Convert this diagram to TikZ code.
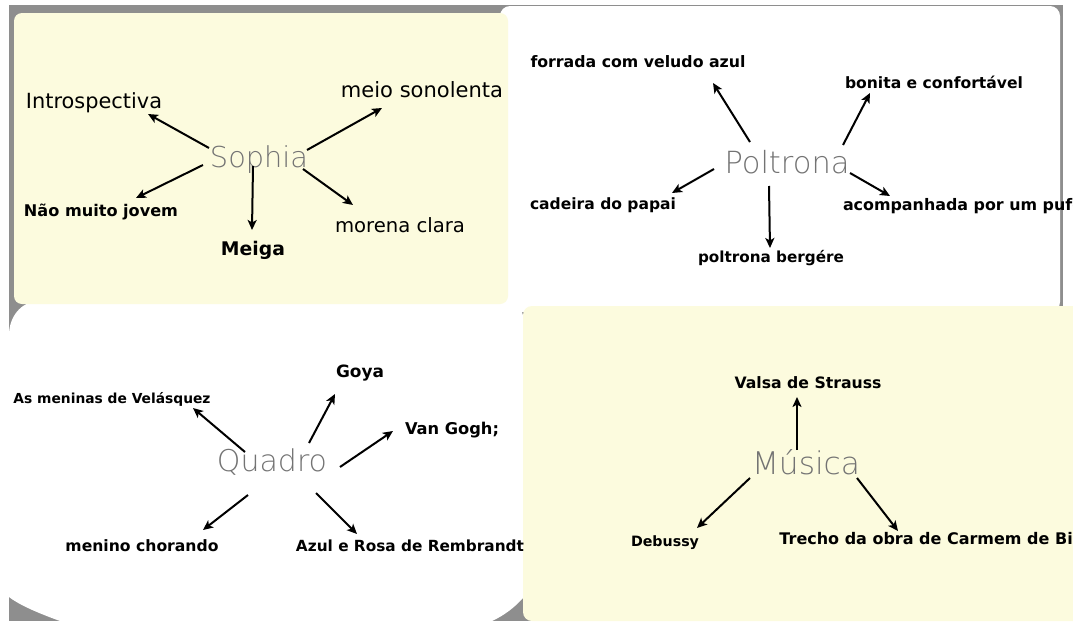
\documentclass[tikz,border=0pt]{standalone}
\usepackage{fontspec}
\setmainfont{DejaVu Sans}
\newfontfamily\handfont{DejaVu Sans ExtraLight}
\usetikzlibrary{arrows.meta}
\definecolor{cream}{RGB}{252,251,222}
\definecolor{backgray}{RGB}{142,142,142}
\definecolor{handgray}{RGB}{115,115,115}
\newcommand{\lw}[2]{\resizebox{#1pt}{!}{#2}}
\begin{document}
\begin{tikzpicture}[x=1pt,y=-1pt,
  lbl/.style={inner sep=0pt,font=\bfseries},
  lblr/.style={inner sep=0pt},
  hub/.style={inner sep=0pt,text=handgray,font=\handfont},
  arr/.style={-{Stealth[length=10pt,width=9pt,inset=2.5pt]},line width=2pt,black}]
\useasboundingbox (0,0) rectangle (1073,621);
\clip (0,0) rectangle (1073,621);
\fill[white] (0,0) rectangle (1073,621);
% backdrop
\fill[backgray] (9,5) rectangle (1063,621);
% panels
\fill[white] (9,335) .. controls (9,318) and (20,301) .. (40,301) -- (505,301)
  .. controls (518,301) and (524,310) .. (524,325) -- (524,597)
  .. controls (515,607) and (505,615) .. (492,621) -- (60,621)
  .. controls (35,612) and (18,604) .. (9,597) -- cycle;
\fill[white,rounded corners=10pt] (500,6) rectangle (1060,312);
\fill[cream,rounded corners=8pt] (14,13) rectangle (508,304);
\fill[cream,rounded corners=9pt] (523,306) rectangle (1085,621);

% ---- Sophia
\node[hub] (sophia) at (259,160) {\lw{98}{Sophia}};
\node[lblr] (intro) at (94,103) {\lw{136}{Introspectiva}};
\node[lblr] (meio) at (422,90) {\lw{162}{meio sonolenta}};
\node[lbl] (nao) at (101,212) {\lw{154}{Não muito jovem}};
\node[lbl] (meiga) at (253,250) {\lw{64}{Meiga}};
\node[lblr] (morena) at (400,225) {\lw{130}{morena clara}};
\draw[arr] ([shift={(-50,-12)}]sophia.center) -- ([shift={(54,11)}]intro.center);
\draw[arr] ([shift={(48,-10)}]sophia.center) -- ([shift={(-40,18)}]meio.center);
\draw[arr] ([shift={(-56,5)}]sophia.center) -- ([shift={(35,-14)}]nao.center);
\draw[arr] ([shift={(-6,6)}]sophia.center) -- ([shift={(-1,-20)}]meiga.center);
\draw[arr] ([shift={(44,9)}]sophia.center) -- ([shift={(-47,-20)}]morena.center);

% ---- Poltrona
\node[hub] (poltrona) at (787,162) {\lw{125}{Poltrona}};
\node[lbl] (forrada) at (638,62) {\lw{215}{forrada com veludo azul}};
\node[lbl] (bonita) at (934,82) {\lw{178}{bonita e confortável}};
\node[lbl] (cadeira) at (603,205) {\lw{146}{cadeira do papai}};
\node[lbl] (bergere) at (771,258) {\lw{146}{poltrona bergére}};
\node[lbl] (acomp) at (963,206) {\lw{240}{acompanhada por um pufe}};
\draw[arr] ([shift={(-37,-20)}]poltrona.center) -- ([shift={(75,21)}]forrada.center);
\draw[arr] ([shift={(56,-17)}]poltrona.center) -- ([shift={(-64,11)}]bonita.center);
\draw[arr] ([shift={(-73,7)}]poltrona.center) -- ([shift={(69,-12)}]cadeira.center);
\draw[arr] ([shift={(-18,24)}]poltrona.center) -- ([shift={(-1,-10)}]bergere.center);
\draw[arr] ([shift={(63,11)}]poltrona.center) -- ([shift={(-73,-10)}]acomp.center);

% ---- Quadro
\node[hub] (quadro) at (272,462) {\lw{110}{Quadro}};
\node[lbl] (goya) at (360,373) {\lw{48}{Goya}};
\node[lbl] (meninas) at (112,399) {\lw{197}{As meninas de Velásquez}};
\node[lbl] (vangogh) at (452,430) {\lw{94}{Van Gogh;}};
\node[lbl] (menino) at (142,546) {\lw{153}{menino chorando}};
\node[lbl] (azul) at (410,546) {\lw{228}{Azul e Rosa de Rembrandt}};
\draw[arr] ([shift={(37,-19)}]quadro.center) -- ([shift={(-25,21)}]goya.center);
\draw[arr] ([shift={(-27,-10)}]quadro.center) -- ([shift={(81,9)}]meninas.center);
\draw[arr] ([shift={(68,5)}]quadro.center) -- ([shift={(-59,1)}]vangogh.center);
\draw[arr] ([shift={(-24,33)}]quadro.center) -- ([shift={(61,-16)}]menino.center);
\draw[arr] ([shift={(44,31)}]quadro.center) -- ([shift={(-53,-12)}]azul.center);

% ---- Musica
\node[hub] (musica) at (806,462) {\lw{108}{Música}};
\node[lbl] (valsa) at (808,383) {\lw{147}{Valsa de Strauss}};
\node[lbl] (debussy) at (665,543) {\lw{68}{Debussy}};
\node[lbl] (trecho) at (940,539) {\lw{321}{Trecho da obra de Carmem de Bizet}};
\draw[arr] ([shift={(-9,-12)}]musica.center) -- ([shift={(-11,14)}]valsa.center);
\draw[arr] ([shift={(-56,16)}]musica.center) -- ([shift={(32,-15)}]debussy.center);
\draw[arr] ([shift={(51,16)}]musica.center) -- ([shift={(-42,-8)}]trecho.center);
\end{tikzpicture}
\end{document}
